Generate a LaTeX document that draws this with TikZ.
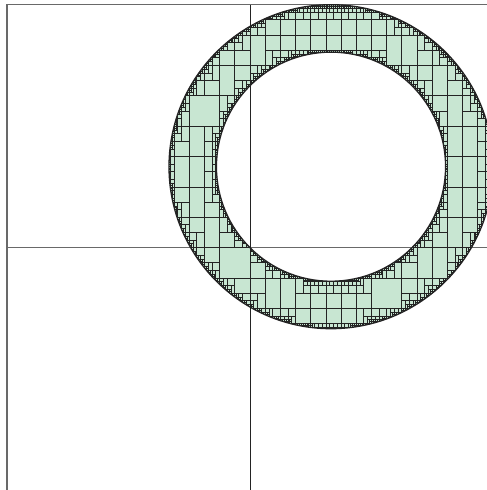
\documentclass[tikz,border=0pt]{standalone}
\usepackage{tikz}
\definecolor{cellgreen}{RGB}{200,230,210}
\definecolor{celledge}{RGB}{35,35,35}
\definecolor{framegray}{RGB}{105,105,105}
\tikzset{
  cellfill/.style={fill=cellgreen},
  celldraw/.style={draw=celledge,line width=0.85pt,line join=miter},
  frameline/.style={draw=framegray,line width=1.1pt},
  splitline/.style={draw=celledge,line width=0.9pt},
  rimline/.style={draw=celledge,line width=1.3pt}
}
\ExplSyntaxOn
\fp_const:Nn \c_my_c_fp {2/3}
\fp_const:Nn \c_my_Rsq_fp {1/9}
\fp_const:Nn \c_my_rsq_fp {1/18}
\fp_new:N \l_my_dmin_fp
\fp_new:N \l_my_dmax_fp
\int_new:N \l_my_state_int
\tl_new:N \g_my_path_tl
\int_const:Nn \c_my_maxdepth_int {16}
\cs_new_protected:Npn \my_add:nnnn #1#2#3#4
 {
  \tl_gput_right:Nx \g_my_path_tl
   {
    (\fp_eval:n{round(7+486*(#1),2)}pt,\fp_eval:n{round(-0.7+486*(#2),2)}pt)~rectangle~
    (\fp_eval:n{round(7+486*(#1+#3),2)}pt,\fp_eval:n{round(-0.7+486*(#2+#4),2)}pt)~
   }
 }
\cs_new_protected:Npn \my_cell:nnnnn #1#2#3#4#5
 {
  \fp_set:Nn \l_my_dmin_fp
   { max(#1-\c_my_c_fp,0,\c_my_c_fp-#1-#3)^2 + max(#2-\c_my_c_fp,0,\c_my_c_fp-#2-#4)^2 }
  \fp_set:Nn \l_my_dmax_fp
   { max(abs(#1-\c_my_c_fp),abs(#1+#3-\c_my_c_fp))^2 + max(abs(#2-\c_my_c_fp),abs(#2+#4-\c_my_c_fp))^2 }
  \int_set:Nn \l_my_state_int {2}
  \fp_compare:nNnT \l_my_dmax_fp < { \c_my_rsq_fp + 1e-12 } { \int_set:Nn \l_my_state_int {0} }
  \fp_compare:nNnT \l_my_dmin_fp > { \c_my_Rsq_fp - 1e-12 } { \int_set:Nn \l_my_state_int {0} }
  \int_compare:nNnT \l_my_state_int = {2}
   {
    \fp_compare:nNnT \l_my_dmin_fp > { \c_my_rsq_fp - 1e-12 }
     {
      \fp_compare:nNnT \l_my_dmax_fp < { \c_my_Rsq_fp + 1e-12 }
       { \int_set:Nn \l_my_state_int {1} }
     }
   }
  \int_case:nn { \l_my_state_int }
   {
    {1} { \my_add:nnnn {#1}{#2}{#3}{#4} }
    {2}
     {
      \int_compare:nNnTF {#5} < { \c_my_maxdepth_int }
       {
        \int_if_even:nTF {#5}
         {
          \my_cell:xxxxx {#1}{#2}{\fp_eval:n{#3/2}}{#4}{\int_eval:n{#5+1}}
          \my_cell:xxxxx {\fp_eval:n{#1+#3/2}}{#2}{\fp_eval:n{#3/2}}{#4}{\int_eval:n{#5+1}}
         }
         {
          \my_cell:xxxxx {#1}{#2}{#3}{\fp_eval:n{#4/2}}{\int_eval:n{#5+1}}
          \my_cell:xxxxx {#1}{\fp_eval:n{#2+#4/2}}{#3}{\fp_eval:n{#4/2}}{\int_eval:n{#5+1}}
         }
       }
       { \my_add:nnnn {#1}{#2}{#3}{#4} }
     }
   }
 }
\cs_generate_variant:Nn \my_cell:nnnnn { xxxxx }
\my_cell:nnnnn {0}{0}{1}{1}{0}
\tl_gset_eq:NN \mycellpath \g_my_path_tl
\ExplSyntaxOff
\begin{document}
\begin{tikzpicture}
\useasboundingbox (0pt,0pt) rectangle (487pt,490pt);
\clip (0pt,0pt) rectangle (487pt,490pt);
\fill[white] (0pt,0pt) rectangle (487pt,490pt);
% frame and first-level split lines
\coordinate (bl) at (7pt,-0.7pt);
\coordinate (tr) at (493pt,485.3pt);
\coordinate (ml) at (7pt,242.3pt);
\coordinate (mr) at (493pt,242.3pt);
\coordinate (mb) at (250pt,-0.7pt);
\coordinate (mt) at (250pt,485.3pt);
\coordinate (cc) at (331pt,323.3pt);
\draw[frameline] (bl) rectangle (tr);
\draw[frameline] (ml) -- (mr);
\begin{scope}[even odd rule]
  \clip (cc) circle (162pt) (cc) circle (114.55pt);
  \edef\tmpfill{\noexpand\fill[cellfill] \mycellpath;}\tmpfill
  \edef\tmpdraw{\noexpand\draw[celldraw] \mycellpath;}\tmpdraw
\end{scope}
\draw[rimline] (cc) circle (162pt);
\draw[rimline] (cc) circle (114.55pt);
\draw[splitline] (mb) -- (mt);
\end{tikzpicture}
\end{document}
